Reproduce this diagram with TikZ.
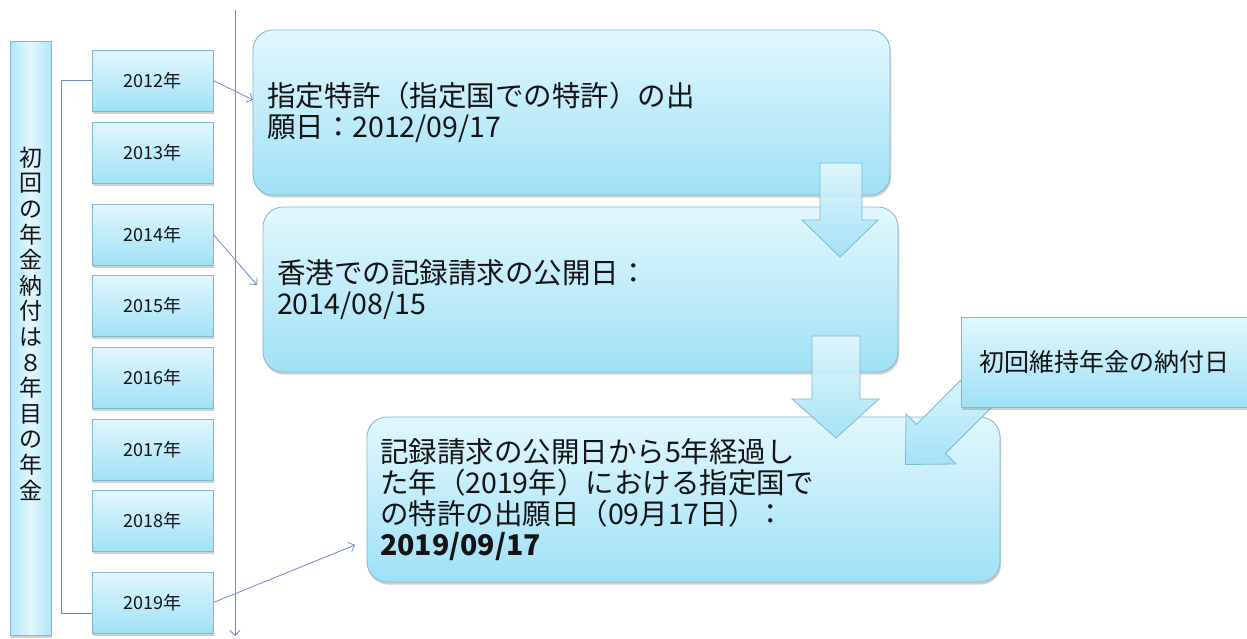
\documentclass[tikz,border=0pt]{standalone}
\usepackage{fontspec}
\setmainfont{Noto Sans CJK JP}
\usetikzlibrary{shadows,arrows.meta}
\definecolor{boxtop}{RGB}{226,247,253}
\definecolor{boxbot}{RGB}{160,225,246}
\definecolor{boxline}{RGB}{128,184,206}
\definecolor{conn}{RGB}{112,140,196}
\definecolor{txt}{RGB}{20,20,20}
\begin{document}
\begin{tikzpicture}[x=1pt,y=-1pt,
  shadowed/.style={drop shadow={shadow xshift=1pt,shadow yshift=-2.5pt,opacity=0.3,fill=black!60}},
  bigbox/.style={shadowed, draw=boxline, line width=0.8pt, rounded corners=20pt,
    top color=boxtop, bottom color=boxbot, inner xsep=14pt, inner ysep=0pt,
    align=left, font=\fontsize{28.5}{31}\selectfont, text=txt},
  plainbox/.style={shadowed, draw=boxline, line width=0.8pt, top color=boxtop, bottom color=boxbot, inner sep=0pt, text=txt},
  yearbox/.style={plainbox, minimum width=121pt, minimum height=61pt, font=\fontsize{18}{21}\selectfont},
  conline/.style={draw=conn, line width=0.8pt},
  conarrow/.style={conline, -{Straight Barb[length=5pt,width=10pt]}},
  blockarrow/.style={draw=boxline, line width=0.8pt, top color=boxtop, bottom color=boxbot, fill opacity=0.92}
]
\useasboundingbox (0,0) rectangle (1247,638);
\fill[white] (0,0) rectangle (1247,638);

% left tall box
\node[shadowed, draw=boxline, line width=0.8pt, left color=boxbot!75!boxtop, right color=boxbot!75!boxtop, middle color=boxtop, inner sep=0pt, minimum width=41pt, minimum height=594pt] (side) at (30.5,338) {};
\node[align=center, inner sep=0pt, text=txt, font=\fontsize{23}{25.6}\selectfont] (sidetext) at (30.5,323.5)
  {初\\回\\の\\年\\金\\納\\付\\は\\８\\年\\目\\の\\年\\金};

% year boxes
\node[yearbox] (y2012) at (152.5,80.5) {2012年};
\node[yearbox] (y2013) at (152.5,153) {2013年};
\node[yearbox] (y2014) at (152.5,234.5) {2014年};
\node[yearbox] (y2015) at (152.5,306) {2015年};
\node[yearbox] (y2016) at (152.5,377.5) {2016年};
\node[yearbox] (y2017) at (152.5,449.5) {2017年};
\node[yearbox] (y2018) at (152.5,521) {2018年};
\node[yearbox] (y2019) at (152.5,602.5) {2019年};

% bracket
\coordinate (ba) at (61,80.5);
\coordinate (bb) at (61,613);
\draw[conline] (y2012.west) -- (ba) -- (bb) -- (bb -| y2019.west);

% vertical time line
\coordinate (vt) at (235,10);
\coordinate (vb) at (235,636);
\draw[conarrow] (vt) -- (vb);

% main boxes
\node[bigbox, minimum width=637pt, text width=609pt, minimum height=165pt] (b1) at (571.5,112.5)
  {指定特許（指定国での特許）の出\\願日：2012/09/17};
\node[bigbox, minimum width=635pt, text width=607pt, minimum height=165pt] (b2) at (580.5,289.5)
  {香港での記録請求の公開日：\\2014/08/15};
\node[bigbox, minimum width=633pt, text width=607pt, minimum height=165pt, inner xsep=13pt] (b3) at (683.5,499.5)
  {記録請求の公開日から5年経過し\\た年（2019年）における指定国で\\の特許の出願日（09月17日）：\\\textbf{2019/09/17}};

% connectors from years
\coordinate (t1) at (253,100);
\coordinate (t2) at (257,285);
\coordinate (t3) at (355,545);
\draw[conarrow] (y2012.east) -- (t1);
\draw[conarrow] (y2014.east) -- (t2);
\draw[conarrow] (y2019.east) -- (t3);

% block arrows
\path[blockarrow] (820,163) -- (862,163) -- (862,220) -- (878,220) -- (840,257) -- (802,220) -- (820,220) -- cycle;
\path[blockarrow] (812,336) -- (860,336) -- (860,399) -- (879,399) -- (836,438) -- (792,399) -- (812,399) -- cycle;
\path[blockarrow] (905.5,464.5) -- (906,414) -- (916.5,424.5) -- (980.5,360.5) -- (1009.5,389.5) -- (945.5,453.5) -- (956,464) -- cycle;

% callout
\node[plainbox, minimum width=286pt, minimum height=90pt, font=\fontsize{25}{28}\selectfont] (call) at (1104,362) {初回維持年金の納付日};
\end{tikzpicture}
\end{document}
